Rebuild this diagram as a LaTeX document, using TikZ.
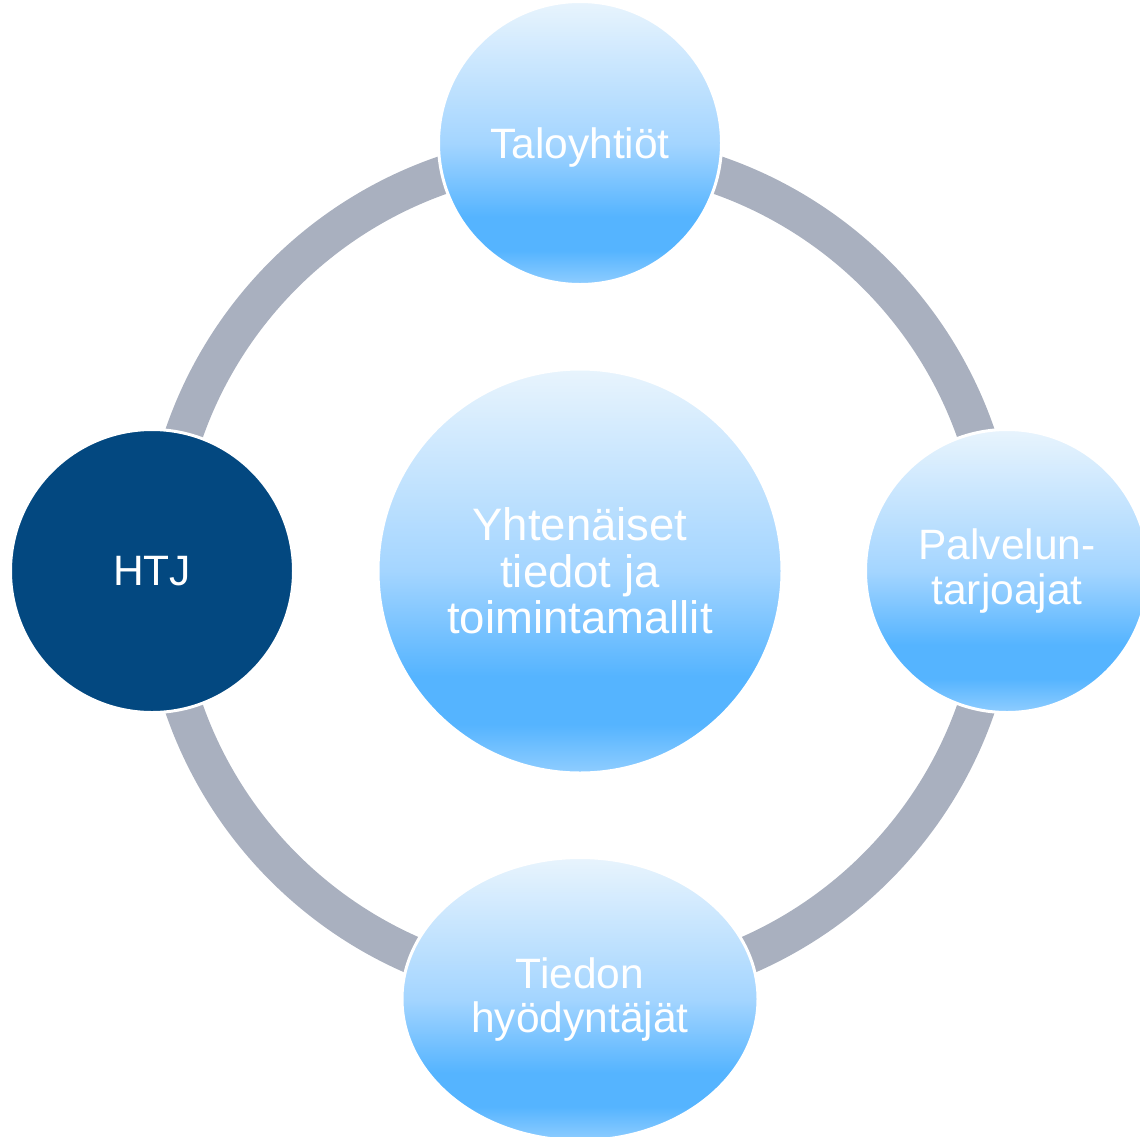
\documentclass[tikz,border=0pt]{standalone}
\usepackage{fontspec}
\setmainfont{Liberation Sans}
\usetikzlibrary{shapes.geometric}
\definecolor{ringgray}{HTML}{A9B0BF}
\definecolor{htjblue}{HTML}{034880}
\definecolor{skytop}{HTML}{E8F4FD}
\definecolor{skymid}{HTML}{A4D5FF}
\definecolor{skydeep}{HTML}{55B4FF}
\definecolor{skylow}{HTML}{8FCDFF}
\pgfdeclareverticalshading{skyfill}{100bp}{color(0bp)=(skylow); color(25bp)=(skylow);
  color(31bp)=(skydeep); color(37bp)=(skydeep); color(50bp)=(skymid);
  color(75bp)=(skytop); color(100bp)=(skytop)}
\tikzset{
  disc/.style={circle, minimum size=283pt, inner sep=0pt, draw=white, line width=3pt,
    text=white, align=center, font=\fontsize{42.5pt}{44pt}\selectfont},
  bubble/.style={disc, shading=skyfill},
  ringline/.style={draw=ringgray, line width=38pt}
}
\begin{document}
\begin{tikzpicture}[x=1pt,y=-1pt]
\useasboundingbox (0,0) rectangle (1140,1136);
\clip (0,0) rectangle (1140,1136);
\coordinate (mid) at (580,571);
\draw[ringline] (mid) circle[radius=419pt];
% centre and the four around it
\node[bubble, minimum size=404pt, font=\fontsize{45.5pt}{46.5pt}\selectfont] (hub) at (mid)
  {Yhtenäiset\\tiedot ja\\toimintamallit};
\node[bubble, text depth=0pt] (talo) at (580,143) {Taloyhtiöt};
\node[disc, fill=htjblue] (htj) at (152,571) {HTJ};
\node[bubble] (palvelu) at (1007,571) {Palvelun-\\tarjoajat};
\node[bubble, ellipse, minimum width=356pt] (tiedon) at (580,999) {Tiedon\\hyödyntäjät};
\end{tikzpicture}
\end{document}
